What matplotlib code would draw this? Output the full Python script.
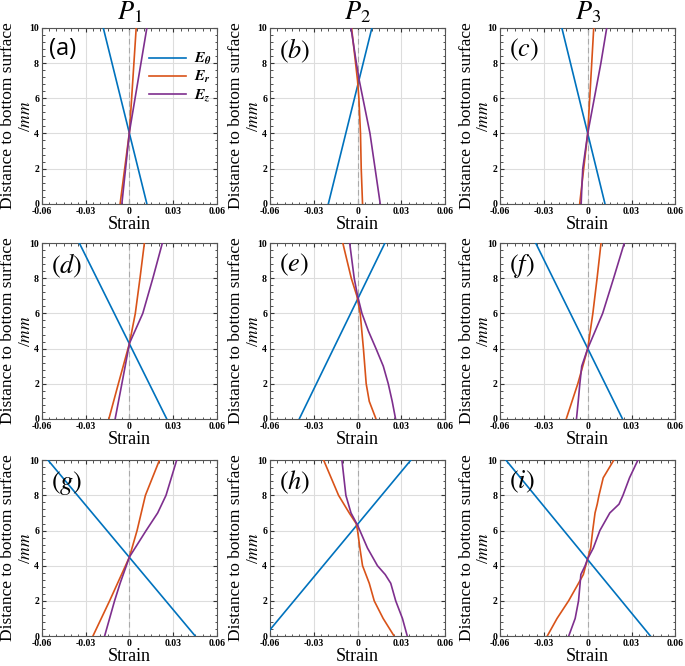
import matplotlib
matplotlib.use("Agg")
import matplotlib.pyplot as plt
from matplotlib.ticker import AutoMinorLocator, FixedLocator
import numpy as np

# depth through thickness (mm) and strain values
# panel order: (a) (b) (c) / (d) (e) (f) / (g) (h) (i)
panel_tags = ["(a)", r"$(b)$", r"$(c)$", r"$(d)$", r"$(e)$", r"$(f)$",
              r"$(g)$", r"$(h)$", r"$(i)$"]
col_titles = [r"$P_1$", r"$P_2$", r"$P_3$"]

e_theta = [
    ([0, 10], [0.0119, -0.0179]),
    ([0, 10], [-0.0200, 0.0098]),
    ([0, 10], [0.0118, -0.0177]),
    ([0, 10], [0.0255, -0.0343]),
    ([0, 10], [-0.0399, 0.0187]),
    ([0, 10], [0.0238, -0.0356]),
    ([0, 10], [0.0450, -0.0557]),
    ([0.35, 10], [-0.0600, 0.0364]),
    ([0, 10], [0.0429, -0.0559]),
]

e_r = [
    ([0, 4.1, 10], [-0.0064, 0.0, 0.0046]),
    ([0, 2, 4, 6, 7, 10], [0.0034, 0.0025, 0.0020, 0.0009, 0.0, -0.0041]),
    ([0, 4, 10], [-0.0055, 0.0, 0.0041]),
    ([0, 2, 4.3, 6, 8, 10], [-0.0141, -0.0076, 0.0, 0.0040, 0.0072, 0.0102]),
    ([0, 1, 2, 4, 6, 7, 8, 10], [0.0126, 0.0080, 0.0059, 0.0040, 0.0018, -0.0005, -0.0043, -0.0101]),
    ([0, 2, 4, 6, 8, 10], [-0.0147, -0.0068, 0.0, 0.0035, 0.0064, 0.0091]),
    ([0, 2, 4, 4.5, 6, 8, 10], [-0.0250, -0.0136, -0.0027, 0.0, 0.0052, 0.0109, 0.0205]),
    ([0, 1, 2, 3, 3.5, 4, 5, 6, 6.4, 7, 8, 10],
     [0.0250, 0.0175, 0.0114, 0.0080, 0.0057, 0.0034, 0.0016, 0.0, -0.0010, -0.0057, -0.0130, -0.0232]),
    ([0, 1, 2, 3, 3.5, 4, 4.4, 5, 6, 7, 7.5, 8, 9, 10],
     [-0.0277, -0.0210, -0.0131, -0.0063, -0.0030, -0.0014, 0.0, 0.0020, 0.0034, 0.0050, 0.0065, 0.0077, 0.0106, 0.0178]),
]

e_z = [
    ([0, 4.1, 10], [-0.0052, 0.0, 0.0119]),
    ([0, 4, 7, 8, 10], [0.0155, 0.0085, 0.0012, -0.0008, -0.0045]),
    ([0, 1, 2, 4, 6, 8, 10], [-0.0045, -0.0040, -0.0034, 0.0, 0.0045, 0.0090, 0.0130]),
    ([0, 2, 4.3, 6, 8, 10], [-0.0098, -0.0052, 0.0, 0.0091, 0.0160, 0.0225]),
    ([0, 1, 2, 3, 4, 5, 6, 7, 8, 10],
     [0.0260, 0.0237, 0.0210, 0.0176, 0.0126, 0.0074, 0.0030, 0.0, -0.0023, -0.0054]),
    ([0, 1, 2, 3, 4, 6, 8, 10], [-0.0077, -0.0065, -0.0054, -0.0041, 0.0, 0.0102, 0.0177, 0.0250]),
    ([0, 1, 2, 3, 4.5, 6, 7, 8, 10], [-0.0170, -0.0136, -0.0102, -0.0064, 0.0, 0.0114, 0.0193, 0.0250, 0.0323]),
    ([0, 1, 2, 3, 3.5, 4, 5, 6.3, 7, 8, 10],
     [0.0340, 0.0307, 0.0261, 0.0227, 0.0189, 0.0136, 0.0068, 0.0, -0.0045, -0.0080, -0.0107]),
    ([0, 1, 2, 3, 3.5, 4, 4.4, 5, 6, 7, 7.5, 8, 9, 10],
     [-0.0130, -0.0086, -0.0063, -0.0052, -0.0047, -0.0018, 0.0, 0.0038, 0.0083, 0.0151, 0.0214, 0.0241, 0.0286, 0.0343]),
]

x_ticks = [-0.06, -0.03, 0, 0.03, 0.06]
x_ticklabels = ["-0.06", "-0.03", "0", "0.03", "0.06"]
y_ticks = [0, 2, 4, 6, 8, 10]

c_theta = "#0072BD"
c_r = "#D95319"
c_z = "#7E2F8E"

plt.rcParams["font.family"] = ["Liberation Serif", "DejaVu Serif"]
plt.rcParams["mathtext.fontset"] = "stix"

fig = plt.figure(figsize=(6.85, 6.66), dpi=100)

lefts = [0.061, 0.394, 0.730]
bottoms = [0.694, 0.371, 0.045]
w, h = 0.256, 0.264

for i in range(9):
    r, c = divmod(i, 3)
    ax = fig.add_axes([lefts[c], bottoms[r], w, h])

    ax.axvline(0, color="#aaaaaa", lw=0.8, ls=(0, (5, 3)), zorder=1)
    ax.plot(e_theta[i][1], e_theta[i][0], color=c_theta, lw=1.2, label=r"$\mathbfit{E_\theta}$", zorder=3)
    ax.plot(e_r[i][1], e_r[i][0], color=c_r, lw=1.2, label=r"$\mathbfit{E_r}$", zorder=3)
    ax.plot(e_z[i][1], e_z[i][0], color=c_z, lw=1.2, label=r"$\mathbfit{E_z}$", zorder=3)

    ax.set_xlim(-0.06, 0.06)
    ax.set_ylim(0, 10)
    ax.xaxis.set_major_locator(FixedLocator(x_ticks))
    ax.set_xticklabels(x_ticklabels)
    ax.set_yticks(y_ticks)
    ax.xaxis.set_minor_locator(AutoMinorLocator(6))
    ax.yaxis.set_minor_locator(AutoMinorLocator(5))
    ax.tick_params(which="both", direction="in", top=True, right=True,
                   labelsize=7, pad=2, colors="#333333", labelcolor="black")
    ax.tick_params(which="major", length=3)
    ax.tick_params(which="minor", length=1.8)
    for lab in ax.get_xticklabels() + ax.get_yticklabels():
        lab.set_fontweight("bold")
    ax.grid(True, which="major", color="#dddddd", lw=0.8)
    ax.set_axisbelow(True)
    for s in ax.spines.values():
        s.set_color("#555555")
        s.set_linewidth(0.8)

    ax.set_xlabel("Strain", fontsize=13, labelpad=0)
    ax.set_ylabel("Distance to bottom surface", fontsize=12.5)
    ax.yaxis.set_label_coords(-0.145, 0.5)
    ax.text(-0.045, 0.5, "/$mm$", transform=ax.transAxes, rotation=90,
            fontsize=12.5, ha="right", va="center")

    if i == 0:
        ax.text(0.04, 0.95, panel_tags[i], transform=ax.transAxes, fontsize=17,
                family=["Open Sans", "DejaVu Sans"], va="top", ha="left")
        ax.legend(loc="upper right", bbox_to_anchor=(1.03, 0.93), frameon=False,
                  fontsize=11, handlelength=2.4, handletextpad=0.5,
                  labelspacing=0.15, borderpad=0.2)
    else:
        ax.text(0.05, 0.95, panel_tags[i], transform=ax.transAxes, fontsize=19,
                va="top", ha="left")

    if r == 0:
        ax.set_title(col_titles[c], fontsize=19, pad=6)

fig.savefig("out.png", dpi=100)
